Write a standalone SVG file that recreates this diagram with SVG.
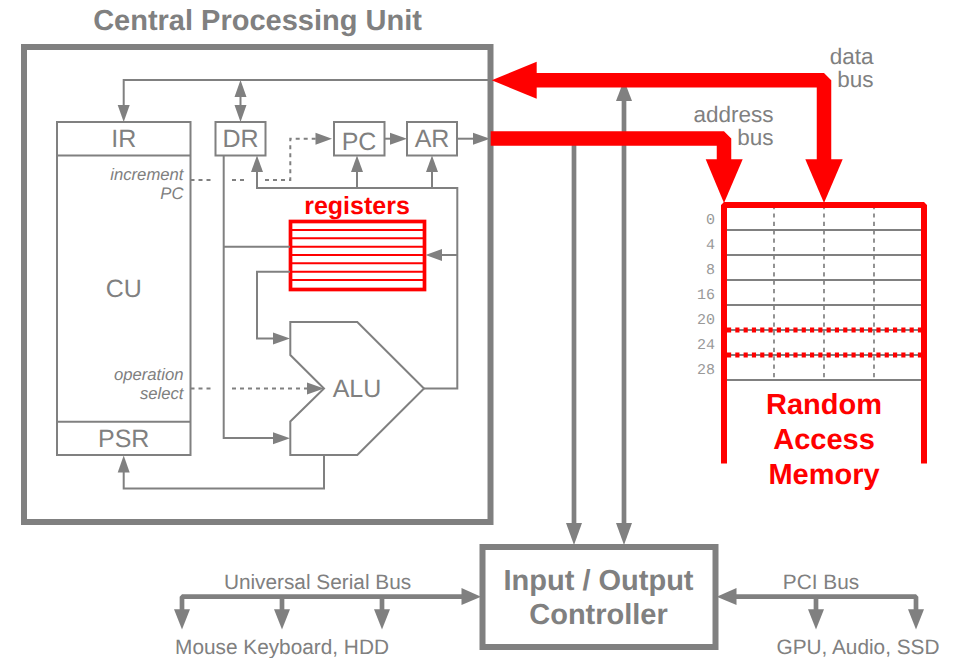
<svg xmlns="http://www.w3.org/2000/svg" width="958" height="658" viewBox="0 0 958 658">
<style>
text{font-family:"Liberation Sans",Arial,sans-serif;fill:#808080;text-rendering:geometricPrecision}
.box{fill:#fff;stroke:#808080;stroke-width:2}
.thick{fill:#fff;stroke:#808080;stroke-width:6}
.w{fill:none;stroke:#808080;stroke-width:2}
.d{fill:none;stroke:#808080;stroke-width:2;stroke-dasharray:4 4}
.bus{fill:none;stroke:#808080;stroke-width:4.700;stroke-linejoin:bevel}
.rb{fill:none;stroke:#f00;stroke-width:14.500;stroke-linejoin:bevel}
.rh{fill:#f00}
.h{fill:#808080}
.r{font-weight:bold;fill:#f00;text-anchor:middle}
.lbl{font-size:25px;text-anchor:middle}
.it{font-size:16.700px;font-style:italic;text-anchor:end}
.mem{font-family:"Liberation Mono",monospace;font-size:15px;fill:#999;text-anchor:end}
.mline{stroke:#808080;stroke-width:2}
.mdash{stroke:#808080;stroke-width:1.700;stroke-dasharray:4.200 4.200}
.mred{stroke:#f00;stroke-width:5;stroke-dasharray:4.150 4.150}
.b{font-size:22.500px;text-anchor:end}
.s{font-size:20.800px;text-anchor:middle}
.t{font-size:29px;font-weight:bold;text-anchor:middle}
</style>
<g id="cpu"><rect class="thick" x="24" y="47" width="466.500" height="475"/>
<text class="t" x="257.500" y="30">Central Processing Unit</text></g>
<g id="cu"><rect class="box" x="57" y="122" width="133.500" height="333"/><line class="w" x1="57" y1="155.500" x2="190.500" y2="155.500"/><line class="w" x1="57" y1="421.700" x2="190.500" y2="421.700"/>
<text class="lbl" x="123.700" y="147">IR</text><text class="lbl" x="123.700" y="297">CU</text><text class="lbl" x="123.700" y="447">PSR</text>
<text class="it" x="183.500" y="180">increment</text><text class="it" x="183.500" y="199">PC</text>
<text class="it" x="183.500" y="380">operation</text><text class="it" x="183.500" y="399">select</text></g>
<g id="dr"><rect class="box" x="215.500" y="122" width="50" height="33.500"/><text class="lbl" x="240.500" y="147">DR</text></g>
<g id="pc"><rect class="box" x="334" y="122" width="50.500" height="33.500"/><text class="lbl" x="359" y="150">PC</text></g>
<g id="ar"><rect class="box" x="407" y="122" width="50" height="33.500"/><text class="lbl" x="432" y="147">AR</text></g>
<g id="registers">
<rect x="290.500" y="221.500" width="134" height="68" fill="#fff" stroke="#f00" stroke-width="3.700"/>
<path d="M290 230H425M290 238.300H425M290 246.700H425M290 255H425M290 263.300H425M290 271.700H425M290 280H425" stroke="#f00" stroke-width="2" fill="none"/>
<text class="r" x="357" y="214" font-size="25">registers</text></g>
<g id="alu"><path class="box" d="M290.300 322H357.300L424 388.500L357.300 455H290.300V421.500L324 388.500L290.300 355Z"/><text class="lbl" x="357" y="397">ALU</text></g>
<g id="ram">
<path d="M774 205V380M824 205V380M874 205V380" class="mdash" fill="none"/>
<path d="M727 230H921M727 255H921M727 280H921M727 305H921M727 330H921M727 355H921M727 380H921" class="mline" fill="none"/>
<path d="M727 330H924M727 355H924" class="mred" fill="none"/>
<path d="M724 463.500V205H924V463.500" fill="none" stroke="#f00" stroke-width="6" stroke-linejoin="bevel"/>
<text class="mem" x="715" y="224">0</text><text class="mem" x="715" y="249">4</text><text class="mem" x="715" y="274">8</text><text class="mem" x="715" y="299">16</text><text class="mem" x="715" y="324">20</text><text class="mem" x="715" y="349">24</text><text class="mem" x="715" y="374">28</text>
<text class="r" x="824" y="414" font-size="29">Random</text><text class="r" x="824" y="449" font-size="29">Access</text><text class="r" x="824" y="484" font-size="29">Memory</text></g>
<g id="io"><rect class="thick" x="482.500" y="547" width="233" height="100"/>
<text class="t" x="598.500" y="590">Input / Output</text><text class="t" x="598.500" y="624">Controller</text></g>
<g id="labels">
<text class="b"><tspan x="873.500" y="63.500">data</tspan><tspan x="873.500" y="86.500">bus</tspan></text>
<text class="b"><tspan x="773.500" y="122">address</tspan><tspan x="773.500" y="145">bus</tspan></text>
<text class="s" x="317.500" y="589">Universal Serial Bus</text>
<text class="s" x="282" y="653.500">Mouse Keyboard, HDD</text>
<text class="s" x="821" y="589">PCI Bus</text>
<text class="s" x="858" y="653.500">GPU, Audio, SSD</text></g>
<g id="connectors">
<path class="w" d="M123.700 106V80H490"/><polygon class="h" points="123.700,122 117.700,105 129.700,105"/>
<path class="w" d="M240.500 95V107"/><polygon class="h" points="240.500,80 234.500,97 246.500,97"/><polygon class="h" points="240.500,122 234.500,105 246.500,105"/>
<path class="w" d="M223.700 155.500V438H275M223.700 246.700H290"/><polygon class="h" points="290,438.300 273,432.300 273,444.300"/>
<path class="w" d="M257 171V188H457.300V388.500H424M357 188V171M432 188V171"/>
<polygon class="h" points="257,155.500 251,172 263,172"/><polygon class="h" points="357,155.500 351,172 363,172"/><polygon class="h" points="432,155.500 426,172 438,172"/>
<path class="w" d="M457.300 255H440"/><polygon class="h" points="425.500,255 442,249 442,261"/>
<path class="w" d="M290 271.700H257V338.500H275"/><polygon class="h" points="290,338.500 273,332.500 273,344.500"/>
<path class="d" d="M190.500 180H212M232 180H247M265 180H290.300V138.700H316"/><polygon class="h" points="332,138.700 315.500,132.700 315.500,144.700"/>
<path class="w" d="M384.500 138.700H392"/><polygon class="h" points="407,138.700 390,132.700 390,144.700"/>
<path class="w" d="M457 138.700H475"/><polygon class="h" points="490,138.700 473,132.700 473,144.700"/>
<path class="d" d="M190.500 388.500H212M232 388.500H308"/><polygon class="h" points="324,388.500 307,382.500 307,394.500"/>
<path class="w" d="M324 455V488.500H123.700V471"/><polygon class="h" points="123.700,455.500 117.700,472.500 129.700,472.500"/>
<path class="bus" d="M574 140V530M624 95V530"/>
<polygon class="h" points="574,545 566,523 582,523"/><polygon class="h" points="624,545 616,523 632,523"/><polygon class="h" points="624,80 616,101 632,101"/>
<path class="rb" d="M535 80.300H824V160"/><polygon class="rh" points="491.700,80.200 536.700,61.700 536.700,98.700"/><polygon class="rh" points="824,203 805.300,159.300 842.700,159.300"/>
<path class="rb" d="M490.700 138.400H724V160"/><polygon class="rh" points="724,203 705.700,159.300 742.700,159.300"/>
<path class="bus" d="M463 596.700H182V612M282 596.700V612M382 596.700V612"/>
<polygon class="h" points="481,596.700 461.500,588 461.500,605"/><polygon class="h" points="182,629.500 174,609.300 190,609.300"/><polygon class="h" points="282,629.500 274,609.300 290,609.300"/><polygon class="h" points="382,629.500 374,609.300 390,609.300"/>
<path class="bus" d="M735 596.700H916V612M816 596.700V612"/>
<polygon class="h" points="716.700,596.700 736.500,588 736.500,605"/><polygon class="h" points="816,629.500 808,609.300 824,609.300"/><polygon class="h" points="916,629.500 908,609.300 924,609.300"/>
</g>
</svg>
